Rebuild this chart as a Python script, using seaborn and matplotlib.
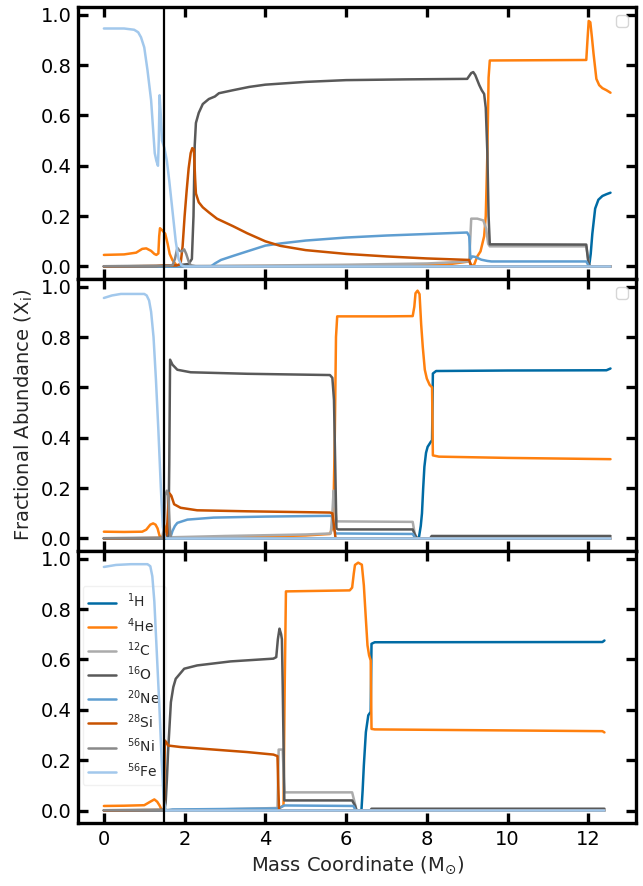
import matplotlib
matplotlib.use("Agg")
import matplotlib.pyplot as plt
import pandas as pd
import seaborn as sns

# ---------------- data ----------------
species_labels = [r'$^{1}$H', r'$^{4}$He', r'$^{12}$C', r'$^{16}$O',
                  r'$^{20}$Ne', r'$^{28}$Si', r'$^{56}$Ni', r'$^{56}$Fe']
species_colors = ['#006BA4', '#FF800E', '#ABABAB', '#595959',
                  '#5F9ED1', '#C85200', '#898989', '#A2C8EC']
x_ticks = [0, 2, 4, 6, 8, 10, 12]
y_ticks = [0.0, 0.2, 0.4, 0.6, 0.8, 1.0]
mass_cut = 1.49

# Panel A (top)
A_H = [(0, 0), (12.02, 0), (12.06, 0.05), (12.1, 0.13), (12.17, 0.23), (12.25, 0.265),
       (12.35, 0.28), (12.45, 0.287), (12.55, 0.293)]
A_He = [(0, 0.046), (0.5, 0.048), (0.8, 0.055), (0.95, 0.07), (1.05, 0.072), (1.17, 0.062),
        (1.25, 0.05), (1.3, 0.046), (1.35, 0.052), (1.37, 0.12), (1.39, 0.152), (1.45, 0.143),
        (1.52, 0.13), (1.58, 0.09), (1.63, 0.05), (1.7, 0.025), (1.8, 0.005), (1.9, 0.0),
        (3.0, 0.001), (6.0, 0.003), (8.5, 0.008), (9.05, 0.02), (9.12, 0.0), (9.18, 0.01),
        (9.25, 0.04), (9.33, 0.06), (9.42, 0.12), (9.46, 0.2), (9.5, 0.45), (9.53, 0.75),
        (9.56, 0.818), (11.95, 0.82), (11.98, 0.9), (12.01, 0.975), (12.05, 0.97),
        (12.09, 0.91), (12.13, 0.845), (12.2, 0.745), (12.27, 0.72), (12.35, 0.708),
        (12.45, 0.7), (12.55, 0.69)]
A_C = [(0, 0.001), (2.0, 0.002), (4, 0.004), (6, 0.007), (8, 0.012), (9.05, 0.02), (9.1, 0.19),
       (9.25, 0.19), (9.4, 0.183), (9.47, 0.15), (9.52, 0.09), (9.56, 0.08), (11.95, 0.08),
       (12.0, 0.03), (12.03, 0.0), (12.55, 0.0)]
A_O = [(0, 0.001), (1.5, 0.002), (1.8, 0.004), (2.1, 0.01), (2.18, 0.03), (2.22, 0.2),
       (2.25, 0.48), (2.28, 0.57), (2.35, 0.61), (2.45, 0.645), (2.6, 0.665), (2.75, 0.675),
       (2.85, 0.688), (3.2, 0.7), (3.6, 0.713), (4.0, 0.722), (5.0, 0.733), (6.0, 0.74),
       (7.5, 0.743), (9.0, 0.745), (9.1, 0.768), (9.15, 0.772), (9.2, 0.76), (9.25, 0.74),
       (9.3, 0.72), (9.36, 0.70), (9.42, 0.685), (9.46, 0.63), (9.5, 0.45), (9.53, 0.2),
       (9.56, 0.088), (11.95, 0.087), (11.99, 0.03), (12.03, 0.0), (12.55, 0.0)]
A_Ne = [(0, 0.0), (2.65, 0.0), (2.75, 0.012), (2.9, 0.026), (3.2, 0.042), (3.55, 0.06),
        (4.0, 0.083), (4.4, 0.092), (5, 0.103), (6, 0.115), (7, 0.123), (8, 0.129),
        (9.0, 0.135), (9.05, 0.12), (9.08, 0.03), (9.13, 0.04), (9.2, 0.038), (9.35, 0.027),
        (9.5, 0.022), (9.6, 0.02), (11.95, 0.02), (12.02, 0.0), (12.55, 0.0)]
A_Si = [(0, 0.0), (1.3, 0.002), (1.5, 0.004), (1.8, 0.004), (1.9, 0.01), (1.95, 0.08),
        (2.0, 0.2), (2.05, 0.3), (2.1, 0.39), (2.15, 0.45), (2.19, 0.47), (2.23, 0.465),
        (2.26, 0.35), (2.28, 0.29), (2.35, 0.255), (2.45, 0.235), (2.6, 0.215), (2.8, 0.19),
        (3.2, 0.16), (3.55, 0.132), (4.0, 0.1), (4.37, 0.082), (5, 0.065), (6, 0.05),
        (7, 0.04), (8, 0.032), (9.05, 0.026), (9.1, 0.0), (12.55, 0.0)]
A_Ni = [(0, 0.001), (1.5, 0.002), (1.7, 0.005), (1.76, 0.03), (1.82, 0.074), (1.88, 0.062),
        (1.93, 0.06), (1.99, 0.068), (2.04, 0.05), (2.1, 0.02), (2.15, 0.005), (2.3, 0.0),
        (12.55, 0.0)]
A_Fe = [(0, 0.945), (0.5, 0.945), (0.75, 0.94), (0.85, 0.93), (0.92, 0.91), (1.0, 0.87),
        (1.08, 0.78), (1.17, 0.66), (1.23, 0.52), (1.26, 0.45), (1.3, 0.42), (1.34, 0.40),
        (1.36, 0.5), (1.38, 0.68), (1.41, 0.6), (1.44, 0.5), (1.5, 0.47), (1.56, 0.42),
        (1.62, 0.34), (1.7, 0.22), (1.78, 0.1), (1.85, 0.03), (1.92, 0.005), (2.0, 0.0),
        (12.55, 0.0)]

# Panel B (middle)
B_H = [(0, 0), (7.8, 0.0), (7.85, 0.05), (7.88, 0.1), (7.91, 0.2), (7.94, 0.285),
       (7.98, 0.34), (8.02, 0.364), (8.1, 0.384), (8.13, 0.39), (8.15, 0.655), (8.23, 0.665),
       (10, 0.667), (12.45, 0.668), (12.55, 0.675)]
B_He = [(0, 0.027), (0.5, 0.026), (0.95, 0.027), (1.05, 0.035), (1.15, 0.055), (1.22, 0.06),
        (1.28, 0.055), (1.33, 0.04), (1.38, 0.01), (1.45, 0.003), (1.5, 0.02), (1.55, 0.05),
        (1.58, 0.06), (1.62, 0.02), (1.66, 0.002), (3, 0.005), (5, 0.012), (5.6, 0.018),
        (5.68, 0.05), (5.72, 0.4), (5.75, 0.8), (5.78, 0.882), (7.0, 0.882), (7.65, 0.883),
        (7.69, 0.92), (7.72, 0.974), (7.77, 0.984), (7.82, 0.97), (7.86, 0.85), (7.9, 0.76),
        (7.95, 0.67), (8.0, 0.635), (8.07, 0.61), (8.13, 0.6), (8.15, 0.33), (8.3, 0.325),
        (10, 0.32), (12.55, 0.315)]
B_C = [(0, 0.001), (1.5, 0.002), (1.7, 0.005), (3, 0.01), (5, 0.016), (5.62, 0.02),
       (5.66, 0.1), (5.69, 0.19), (5.72, 0.15), (5.76, 0.068), (7.65, 0.066), (7.7, 0.02),
       (7.75, 0.0), (12.55, 0.0)]
B_O = [(0, 0.001), (1.5, 0.002), (1.6, 0.01), (1.62, 0.3), (1.64, 0.71), (1.7, 0.69),
       (1.82, 0.67), (2.15, 0.66), (3.55, 0.654), (5.6, 0.649), (5.66, 0.638), (5.7, 0.55),
       (5.73, 0.3), (5.76, 0.04), (5.8, 0.036), (7.65, 0.036), (7.72, 0.01), (7.77, 0.0),
       (8.08, 0.0), (8.12, 0.01), (12.55, 0.01)]
B_Ne = [(0, 0.0), (1.62, 0.0), (1.66, 0.01), (1.7, 0.03), (1.76, 0.05), (1.82, 0.062),
        (2.07, 0.075), (2.72, 0.083), (4, 0.087), (5.6, 0.09), (5.66, 0.088), (5.7, 0.04),
        (5.74, 0.02), (7.65, 0.018), (7.72, 0.0), (12.55, 0.0)]
B_Si = [(0, 0.0), (1.5, 0.002), (1.56, 0.02), (1.6, 0.15), (1.62, 0.18), (1.67, 0.17),
        (1.74, 0.136), (1.9, 0.122), (2.31, 0.112), (3.55, 0.108), (5.6, 0.103),
        (5.66, 0.1), (5.7, 0.05), (5.74, 0.0), (12.55, 0.0)]
B_Ni = [(0, 0.001), (1.45, 0.002), (1.49, 0.05), (1.52, 0.17), (1.56, 0.19), (1.6, 0.17),
        (1.63, 0.05), (1.66, 0.0), (12.55, 0.0)]
B_Fe = [(0, 0.955), (0.2, 0.965), (0.42, 0.971), (1.0, 0.971), (1.06, 0.965), (1.12, 0.945),
        (1.17, 0.9), (1.23, 0.8), (1.29, 0.63), (1.35, 0.43), (1.41, 0.205), (1.46, 0.046),
        (1.51, 0.005), (1.56, 0.0), (12.55, 0.0)]

# Panel C (bottom)
C_H = [(0, 0.0), (6.38, 0.0), (6.41, 0.08), (6.44, 0.179), (6.49, 0.311), (6.55, 0.378),
       (6.61, 0.392), (6.63, 0.662), (6.71, 0.668), (12.35, 0.669), (12.4, 0.675)]
C_He = [(0, 0.018), (0.5, 0.019), (1.0, 0.021), (1.15, 0.035), (1.25, 0.044), (1.32, 0.035),
        (1.38, 0.02), (1.44, 0.0), (3, 0.002), (4.3, 0.005), (4.45, 0.02), (4.48, 0.5),
        (4.51, 0.87), (6.09, 0.874), (6.15, 0.885), (6.19, 0.94), (6.22, 0.975), (6.3, 0.984),
        (6.39, 0.976), (6.44, 0.894), (6.49, 0.76), (6.53, 0.656), (6.57, 0.616),
        (6.61, 0.596), (6.63, 0.324), (6.71, 0.322), (12.35, 0.315), (12.4, 0.31)]
C_C = [(0, 0.001), (1.5, 0.002), (3, 0.005), (4.3, 0.01), (4.33, 0.242), (4.43, 0.242),
       (4.47, 0.072), (6.15, 0.072), (6.2, 0.04), (6.26, 0.0), (12.4, 0.0)]
C_O = [(0, 0.001), (1.5, 0.002), (1.53, 0.03), (1.56, 0.12), (1.59, 0.232), (1.66, 0.43),
       (1.72, 0.49), (1.78, 0.523), (1.99, 0.563), (2.31, 0.576), (3.14, 0.592), (4.2, 0.603),
       (4.27, 0.609), (4.31, 0.68), (4.35, 0.722), (4.39, 0.7), (4.41, 0.68), (4.43, 0.497),
       (4.47, 0.04), (6.15, 0.04), (6.22, 0.02), (6.26, 0.0), (6.6, 0.0), (6.63, 0.007),
       (12.4, 0.007)]
C_Ne = [(0, 0.0), (1.55, 0.0), (1.7, 0.004), (4.3, 0.008), (4.35, 0.01), (4.47, 0.02),
        (6.18, 0.018), (6.24, 0.0), (12.4, 0.0)]
C_Si = [(0, 0.0), (1.49, 0.002), (1.51, 0.278), (1.55, 0.27), (1.59, 0.258), (1.9, 0.252),
        (2.72, 0.242), (3.55, 0.232), (4.2, 0.222), (4.3, 0.216), (4.32, 0.1), (4.34, 0.0),
        (12.4, 0.0)]
C_Ni = [(0, 0.001), (1.45, 0.002), (1.5, 0.01), (1.55, 0.0), (12.4, 0.0)]
C_Fe = [(0, 0.967), (0.3, 0.975), (0.67, 0.978), (1.08, 0.978), (1.15, 0.97), (1.2, 0.93),
        (1.25, 0.83), (1.31, 0.63), (1.37, 0.43), (1.43, 0.205), (1.48, 0.046), (1.53, 0.0),
        (12.4, 0.0)]

panels = [
    [A_H, A_He, A_C, A_O, A_Ne, A_Si, A_Ni, A_Fe],
    [B_H, B_He, B_C, B_O, B_Ne, B_Si, B_Ni, B_Fe],
    [C_H, C_He, C_C, C_O, C_Ne, C_Si, C_Ni, C_Fe],
]

# ---------------- plot ----------------
sns.set_theme(style="ticks")
plt.rcParams['font.family'] = ['DejaVu Sans']
plt.rcParams['mathtext.fontset'] = 'dejavusans'

fig = plt.figure(figsize=(6.43, 8.86), dpi=100)
axes = fig.subplots(3, 1, sharex=True)
fig.subplots_adjust(left=0.122, right=0.989, top=0.992, bottom=0.071, hspace=0)

for i, (ax, pdata) in enumerate(zip(axes, panels)):
    rows = []
    for lab, pts in zip(species_labels, pdata):
        for m, x in pts:
            rows.append((lab, m, x))
    df = pd.DataFrame(rows, columns=['species', 'm', 'X'])
    sns.lineplot(data=df, x='m', y='X', hue='species', hue_order=species_labels,
                 palette=species_colors, sort=False, estimator=None, lw=1.8,
                 ax=ax, legend=(i == 2))
    ax.axvline(mass_cut, color='black', lw=1.6, zorder=5)
    ax.set_ylim(-0.05, 1.03)
    ax.set_yticks(y_ticks)
    ax.set_xticks(x_ticks)
    ax.set_xlabel('')
    ax.set_ylabel('')
    ax.set_axisbelow(False)
    for s in ax.spines.values():
        s.set_linewidth(2.4)
        s.set_color('black')
    ax.tick_params(direction='in', length=7, width=2.4, top=True, right=True,
                   labelsize=14, colors='black', pad=5)
    if i < 2:
        ax.legend(handles=[], loc='upper right')

axes[2].set_xlim(-0.63, 13.18)
axes[2].set_xlabel(r'Mass Coordinate (M$_{\odot}$)', fontsize=14)
axes[1].set_ylabel(r'Fractional Abundance (X$_{\rm i}$)', fontsize=14)
sns.move_legend(axes[2], 'center left', bbox_to_anchor=(0.0, 0.505), fontsize=10,
                title=None, frameon=True, labelspacing=0.4, handlelength=2.0,
                borderaxespad=0.3)
leg = axes[2].get_legend()
leg.set_zorder(1.5)
leg.get_frame().set_edgecolor('#eeeeee')

fig.savefig('out.png', dpi=100)
